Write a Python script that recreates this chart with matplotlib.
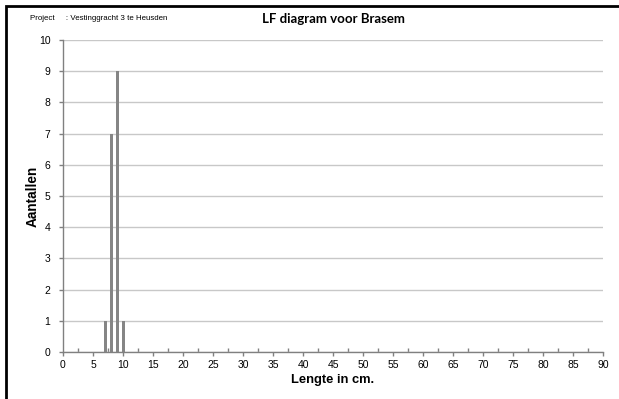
import matplotlib.pyplot as plt
from matplotlib.patches import Rectangle
import numpy as np

# --- DADOS ---
lengtes = [7, 8, 9, 10]
aantallen = [1, 7, 9, 1]
x_ticks = list(range(0, 91, 5))
y_ticks = list(range(0, 11))

plt.rcParams['font.family'] = ['Liberation Sans', 'DejaVu Sans']

fig = plt.figure(figsize=(6.19, 3.99), dpi=100)
W, H = 619, 399

# kader links/boven
fig.patches.append(Rectangle((6 / W, -0.1), 1.2, 1 - 6 / H + 0.1, transform=fig.transFigure,
                             fill=False, edgecolor='black', linewidth=2))

ax = fig.add_axes([63 / W, (H - 352) / H, (603 - 63) / W, (352 - 40) / H])

ax.bar(lengtes, aantallen, width=0.5, color='#858585', zorder=3)

ax.set_xlim(0, 90)
ax.set_ylim(0, 10)
ax.set_xticks(x_ticks)
ax.set_xticks(np.arange(2.5, 90, 5), minor=True)
ax.set_yticks(y_ticks)

ax.grid(axis='y', color='#c8c8c8', linewidth=1, zorder=0)
ax.set_axisbelow(True)

for s in ['top', 'right']:
    ax.spines[s].set_visible(False)
for s in ['left', 'bottom']:
    ax.spines[s].set_color('#808080')
    ax.spines[s].set_linewidth(1)

ax.tick_params(axis='both', which='major', colors='#808080', labelcolor='black',
               labelsize=7.5, length=3, width=1)
ax.tick_params(axis='x', which='minor', direction='in', colors='#808080', length=3, width=1)
ax.tick_params(axis='x', pad=3)
ax.tick_params(axis='y', pad=6)

ax.set_xlabel('Lengte in cm.', fontsize=9.3, fontweight='bold', labelpad=3)
ax.set_ylabel('Aantallen', fontsize=9.8, fontweight='bold')
ax.yaxis.set_label_coords(-23 / 540, 0.5)

fig.text(333 / W, 1 - 19 / H, 'LF diagram voor Brasem', ha='center', va='center',
         fontsize=9.5, fontweight='bold', family=['Lato', 'DejaVu Sans'])
fig.text(30 / W, 1 - 19 / H, 'Project     : Vestinggracht 3 te Heusden', ha='left', va='center',
         fontsize=5.7)

fig.savefig('out.png', dpi=100)
